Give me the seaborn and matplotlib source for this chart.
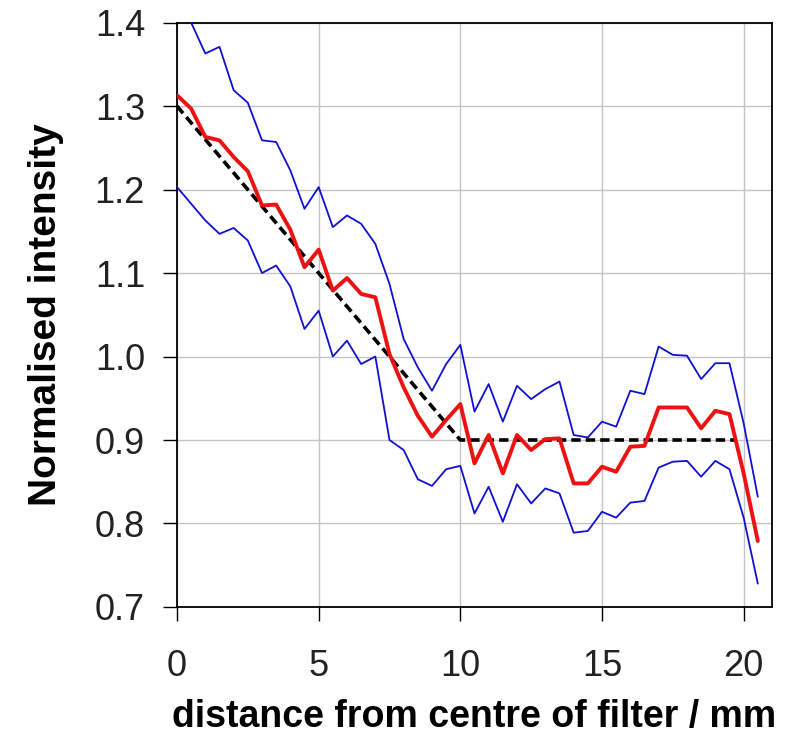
import matplotlib
matplotlib.use("Agg")
import matplotlib.pyplot as plt
import seaborn as sns
import pandas as pd

# ---- data ----
distance = [0.0, 0.5, 1.0, 1.5, 2.0, 2.5, 3.0, 3.5, 4.0, 4.5,
            5.0, 5.5, 6.0, 6.5, 7.0, 7.5, 8.0, 8.5, 9.0, 9.5,
            10.0, 10.5, 11.0, 11.5, 12.0, 12.5, 13.0, 13.5, 14.0, 14.5,
            15.0, 15.5, 16.0, 16.5, 17.0, 17.5, 18.0, 18.5, 19.0, 19.5,
            20.0, 20.5]

mean_intensity = [1.313, 1.297, 1.263, 1.259, 1.239, 1.222, 1.181, 1.182, 1.152, 1.107,
                  1.128, 1.079, 1.094, 1.075, 1.071, 1.003, 0.963, 0.929, 0.904, 0.924,
                  0.943, 0.872, 0.906, 0.860, 0.906, 0.888, 0.901, 0.902, 0.848, 0.848,
                  0.868, 0.862, 0.892, 0.893, 0.939, 0.939, 0.939, 0.914, 0.935, 0.931,
                  0.860, 0.779]

upper_intensity = [1.430, 1.400, 1.363, 1.371, 1.319, 1.304, 1.259, 1.257, 1.223, 1.177,
                   1.203, 1.155, 1.169, 1.159, 1.135, 1.087, 1.021, 0.987, 0.959, 0.991,
                   1.014, 0.934, 0.967, 0.922, 0.965, 0.949, 0.961, 0.970, 0.906, 0.903,
                   0.922, 0.916, 0.959, 0.955, 1.012, 1.002, 1.001, 0.973, 0.992, 0.992,
                   0.920, 0.832]

lower_intensity = [1.203, 1.183, 1.163, 1.147, 1.154, 1.139, 1.100, 1.109, 1.084, 1.033,
                   1.055, 1.000, 1.019, 0.991, 1.000, 0.900, 0.888, 0.853, 0.845, 0.865,
                   0.869, 0.812, 0.844, 0.802, 0.847, 0.824, 0.842, 0.836, 0.789, 0.791,
                   0.814, 0.807, 0.825, 0.827, 0.867, 0.874, 0.875, 0.856, 0.875, 0.865,
                   0.807, 0.728]

fit_distance = [0.0, 10.0, 19.7]
fit_intensity = [1.30, 0.90, 0.90]

x_ticks = [0, 5, 10, 15, 20]
y_ticks = [0.7, 0.8, 0.9, 1.0, 1.1, 1.2, 1.3, 1.4]
y_tick_labels = ["0.7", "0.8", "0.9", "1.0", "1.1", "1.2", "1.3", "1.4"]
x_label = "distance from centre of filter / mm"
y_label = "Normalised intensity"

df = pd.DataFrame({"d": distance, "mean": mean_intensity,
                   "upper": upper_intensity, "lower": lower_intensity})
fit_df = pd.DataFrame({"d": fit_distance, "v": fit_intensity})

sns.set_theme(style="white")
plt.rcParams["font.family"] = ["Liberation Sans", "DejaVu Sans"]

fig = plt.figure(figsize=(7.93, 7.42), dpi=100)
ax = fig.add_axes([0.2232, 0.182, 0.7503, 0.7875])

sns.lineplot(data=df, x="d", y="upper", ax=ax, color="#1010d0", linewidth=1.3, zorder=3)
sns.lineplot(data=df, x="d", y="lower", ax=ax, color="#1010d0", linewidth=1.3, zorder=3)
sns.lineplot(data=fit_df, x="d", y="v", ax=ax, color="black", linewidth=2.6,
             linestyle=(0, (2.6, 1.4)), zorder=4)
sns.lineplot(data=df, x="d", y="mean", ax=ax, color="#ee1111", linewidth=2.8, zorder=5)

ax.set_xlim(0, 21)
ax.set_ylim(0.7, 1.4)
ax.set_xticks(x_ticks)
ax.set_yticks(y_ticks)
ax.set_yticklabels(y_tick_labels)
ax.grid(True, color="#c4c4c4", linewidth=1.0)
ax.set_axisbelow(True)

for s in ax.spines.values():
    s.set_color("black")
    s.set_linewidth(1.3)

ax.tick_params(axis="both", which="major", direction="out", colors="black",
               labelsize=26, width=1.0)
ax.tick_params(axis="y", length=10, pad=13, left=True)
ax.tick_params(axis="x", length=10, pad=20, bottom=True)
for t in ax.get_xticklabels() + ax.get_yticklabels():
    t.set_color("#222222")

ax.set_xlabel(x_label, fontsize=27, fontweight="bold", labelpad=11, color="black")
ax.set_ylabel(y_label, fontsize=28, fontweight="bold", labelpad=22, color="black")

fig.savefig("out.png", dpi=100, facecolor="white")
